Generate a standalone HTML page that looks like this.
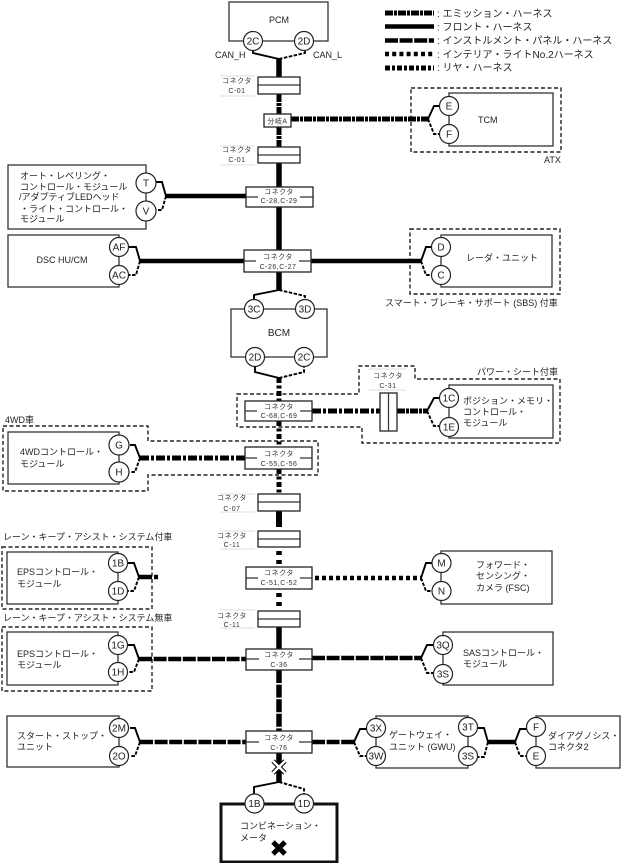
<!DOCTYPE html>
<html lang="ja">
<head>
<meta charset="utf-8">
<title>Diagram</title>
<style>
html,body{margin:0;padding:0;background:#fff;width:621px;height:863px;overflow:hidden}
svg{display:block}
text{font-family:"Liberation Sans","Noto Sans CJK JP",sans-serif;fill:#222}
.t{font-size:9px}
.l{font-size:10px}
.n{font-size:10px;text-anchor:middle}
.c{font-size:7px;text-anchor:middle;letter-spacing:.5px;fill:#333}
.box{fill:#fff;stroke:#333;stroke-width:1.3}
.cb{fill:#fff;stroke:#222;stroke-width:1.3}
.thin{fill:none;stroke:#333;stroke-width:1.2}
.lg{fill:none;stroke:#d4d4d4;stroke-width:.7}
.dash{fill:none;stroke:#222;stroke-width:1.4;stroke-dasharray:4 2.5}
.circ{fill:#fff;stroke:#222;stroke-width:1.2}
.w{fill:none;stroke:#000;stroke-width:4.5}
.v{fill:none;stroke:#000;stroke-width:5.5}
.em{stroke-dasharray:8 1 3 1;stroke-width:5}
.re{stroke-dasharray:9 2 3 2;stroke-width:5}
.in{stroke-dasharray:13 1.6}
.it{stroke-dasharray:4 3.2}
.fs{fill:none;stroke:#000;stroke-width:1.9;stroke-linejoin:miter}
.fd{fill:none;stroke:#000;stroke-width:1.9;stroke-dasharray:3.5 1.5}
</style>
</head>
<body>
<svg width="621" height="863" viewBox="0 0 621 863" xmlns="http://www.w3.org/2000/svg">
<rect width="621" height="863" fill="#fff"/>

<!-- Legend -->
<path class="w em" d="M385 13H434"/>
<path class="w" d="M385 26.500H434"/>
<path class="w in" d="M385 40.500H434"/>
<path class="w it" d="M385 54H434"/>
<path class="w re" style="stroke-dasharray:5 2 3 2" d="M385 68H434"/>
<text class="l" x="437" y="17">: エミッション・ハーネス</text>
<text class="l" x="437" y="30.500">: フロント・ハーネス</text>
<text class="l" x="437" y="44">: インストルメント・パネル・ハーネス</text>
<text class="l" x="437" y="58">: インテリア・ライトNo.2ハーネス</text>
<text class="l" x="437" y="71">: リヤ・ハーネス</text>

<!-- Dashed option frames -->
<rect class="dash" x="411" y="88" width="150" height="64"/>
<rect class="dash" x="410" y="229" width="150" height="65"/>
<path class="dash" d="M237 394H359V366H415V379H560V443H362V427H237Z"/>
<path class="dash" d="M3 426H148V441H318V475H148V491H3Z"/>
<rect class="dash" x="2" y="547" width="150" height="62"/>
<rect class="dash" x="2" y="627" width="150" height="64"/>

<!-- Main vertical wires -->
<path class="v" d="M279 59V77"/>
<path class="v em" d="M279 94V114"/>
<path class="v em" d="M279 127V147"/>
<path class="v" d="M279 163V187"/>
<path class="v" d="M279 207V250"/>
<path class="v" d="M279 272V290"/>
<path class="v re" style="stroke-dasharray:5 2.5 3 2.500" d="M279 378V401"/>
<path class="v re" style="stroke-dasharray:5 2.5 3 2.500" d="M279 421V447"/>
<path class="v re" style="stroke-dasharray:5 2.5 3 2.500" d="M279 469V494"/>
<path class="v" style="stroke-width:6" d="M279 511V527"/>
<path class="v it" style="stroke-dasharray:4 5" d="M279 551V567"/>
<path class="v it" style="stroke-dasharray:4 5" d="M279 593V611"/>
<path class="v" d="M279 627V649"/>
<path class="v in" d="M279 670V731"/>
<path class="v" d="M279 753V783"/>

<!-- Horizontal wires -->
<path class="w em" d="M291 119H428"/>
<path class="w" d="M166 196H246"/>
<path class="w" d="M140 261H244"/>
<path class="w" d="M311 261H421"/>
<path class="w re" d="M312 411H380"/>
<path class="w em" d="M397 411H427"/>
<path class="w re" d="M140 458H245"/>
<path class="w" d="M139 577H152"/>
<path class="w" d="M154 577H158"/>
<path class="w it" style="stroke-dasharray:4 3" d="M315 578H421"/>
<path class="w in" d="M139 659H246"/>
<path class="w in" d="M312 658H421"/>
<path class="w in" d="M140 742H246"/>
<path class="w in" d="M312 742H354"/>
<path class="w" d="M488 742H515"/>

<!-- Forks -->
<path class="fs" d="M253 50V53L279 59"/><path class="fd" d="M279 59L305 53V50"/>
<path class="fs" d="M428 119L434 106H440"/><path class="fd" d="M428 119L434 134H440"/>
<path class="fs" d="M156 182H162L166 196"/><path class="fd" d="M166 196L162 210H156"/>
<path class="fs" d="M129 247H136L140 261"/><path class="fd" d="M140 261L136 275H129"/>
<path class="fs" d="M421 261L426 247H432"/><path class="fd" d="M421 261L426 275H432"/>
<path class="fs" d="M279 290L254 295V300"/><path class="fd" d="M279 290L305 296V300"/>
<path class="fs" d="M255 367V372L279 378"/><path class="fd" d="M279 378L304 372V367"/>
<path class="fs" d="M427 411L434 398H440"/><path class="fd" d="M427 411L434 426H440"/>
<path class="fs" d="M130 445H135L140 458"/><path class="fd" d="M140 458L135 472H130"/>
<path class="fs" d="M128 563H134L139 577"/><path class="fd" d="M139 577L134 591H128"/>
<path class="fs" d="M421 578L426 563H433"/><path class="fd" d="M421 578L426 591H433"/>
<path class="fs" d="M128 645H134L139 659"/><path class="fd" d="M139 659L134 672H128"/>
<path class="fs" d="M421 658L427 645H434"/><path class="fd" d="M421 658L427 673H434"/>
<path class="fs" d="M130 728H135L140 742"/><path class="fd" d="M140 742L135 756H130"/>
<path class="fs" d="M354 742L360 729H367"/><path class="fd" d="M354 742L360 756H367"/>
<path class="fs" d="M478 728H484L488 742"/><path class="fd" d="M488 742L484 757H478"/>
<path class="fs" d="M515 742L520 729H527"/><path class="fd" d="M515 742L520 756H527"/>
<path class="fs" d="M279 782L254 787V795"/><path class="fd" d="M279 782L304 789V795"/>

<!-- Module boxes -->
<rect class="box" x="229" y="2" width="99" height="39"/>
<rect class="box" x="449" y="93" width="104" height="53"/>
<rect class="box" x="8" y="165" width="138" height="64"/>
<rect class="box" x="8" y="235" width="111" height="52"/>
<rect class="box" x="441" y="235" width="111" height="52"/>
<rect class="box" x="231" y="309" width="96" height="48"/>
<rect class="box" x="449" y="385" width="104" height="53"/>
<rect class="box" x="8" y="432" width="111" height="52"/>
<rect class="box" x="7" y="552" width="111" height="52"/>
<rect class="box" x="441" y="551" width="111" height="53"/>
<rect class="box" x="7" y="632" width="111" height="53"/>
<rect class="box" x="443" y="632" width="110" height="53"/>
<rect class="box" x="7" y="716" width="112" height="51"/>
<rect class="box" x="376" y="716" width="92" height="52"/>
<rect class="box" x="536" y="716" width="84" height="52"/>
<rect x="221" y="804" width="116" height="58" fill="#fff" stroke="#111" stroke-width="3"/>

<!-- Connector boxes -->
<rect class="cb" x="258" y="77" width="42" height="17"/><path class="thin" d="M258 85H300"/>
<rect class="cb" x="264" y="114" width="27" height="13"/>
<rect class="cb" x="258" y="147" width="42" height="16"/><path class="thin" d="M258 155H300"/>
<rect class="cb" x="246" y="187" width="67" height="20"/><path class="thin" d="M246 197H258M300 197H313"/>
<rect class="cb" x="244" y="250" width="67" height="22"/><path class="thin" d="M244 261H256M299 261H311"/>
<rect class="cb" x="245" y="401" width="67" height="20"/><path class="thin" d="M245 411H257M300 411H312"/>
<rect class="cb" x="380" y="393" width="17" height="38"/><path class="thin" d="M388.500 393V431"/>
<rect class="cb" x="245" y="447" width="67" height="22"/><path class="thin" d="M245 458H257M300 458H312"/>
<rect class="cb" x="258" y="494" width="42" height="17"/><path class="thin" d="M258 502H300"/>
<rect class="cb" x="258" y="531" width="42" height="16"/><path class="thin" d="M258 539H300"/>
<rect class="cb" x="246" y="567" width="66" height="22"/><path class="thin" d="M246 578H258M300 578H312"/>
<rect class="cb" x="258" y="611" width="42" height="16"/><path class="thin" d="M258 619H300"/>
<rect class="cb" x="246" y="649" width="66" height="21"/><path class="thin" d="M246 659H259M299 659H312"/>
<rect class="cb" x="246" y="731" width="66" height="22"/><path class="thin" d="M246 742H259M299 742H312"/>

<!-- Connector side label rules -->
<path class="lg" d="M220 76H255M220 96H255M220 146H255M220 165H255M220 494H255M220 512H255M220 531H255M220 549H255M220 610H255M220 628H255M369 369H406M369 390H406"/>

<!-- Connector labels -->
<text class="c" x="237" y="83">コネクタ</text><text class="c" x="237" y="93">C-01</text>
<text class="c" x="277.500" y="123.500">分岐A</text>
<text class="c" x="237" y="152">コネクタ</text><text class="c" x="237" y="162">C-01</text>
<text class="c" x="279" y="194">コネクタ</text><text class="c" x="279" y="203">C-28,C-29</text>
<text class="c" x="278" y="259">コネクタ</text><text class="c" x="278" y="269">C-26,C-27</text>
<text class="c" x="388" y="378">コネクタ</text><text class="c" x="388" y="388">C-31</text>
<text class="c" x="279" y="409">コネクタ</text><text class="c" x="279" y="418">C-68,C-69</text>
<text class="c" x="279" y="456">コネクタ</text><text class="c" x="279" y="466">C-55,C-56</text>
<text class="c" x="232" y="500">コネクタ</text><text class="c" x="232" y="511">C-07</text>
<text class="c" x="232" y="538">コネクタ</text><text class="c" x="232" y="547">C-11</text>
<text class="c" x="279" y="575">コネクタ</text><text class="c" x="279" y="585">C-51,C-52</text>
<text class="c" x="232" y="618">コネクタ</text><text class="c" x="232" y="627">C-11</text>
<text class="c" x="279" y="657">コネクタ</text><text class="c" x="279" y="667">C-36</text>
<text class="c" x="279" y="740">コネクタ</text><text class="c" x="279" y="750">C-76</text>

<!-- Circles -->
<g>
<circle class="circ" cx="253" cy="41" r="9.500"/><text class="n" x="253" y="44.500">2C</text>
<circle class="circ" cx="304" cy="41" r="9.500"/><text class="n" x="304" y="44.500">2D</text>
<circle class="circ" cx="449" cy="106" r="9.500"/><text class="n" x="449" y="109.500">E</text>
<circle class="circ" cx="449" cy="134" r="9.500"/><text class="n" x="449" y="137.500">F</text>
<circle class="circ" cx="146" cy="183" r="10"/><text class="n" x="146" y="186.500">T</text>
<circle class="circ" cx="146" cy="211" r="10"/><text class="n" x="146" y="214.500">V</text>
<circle class="circ" cx="119" cy="247" r="9.500"/><text class="n" x="119" y="250.500">AF</text>
<circle class="circ" cx="119" cy="275" r="9.500"/><text class="n" x="119" y="278.500">AC</text>
<circle class="circ" cx="441" cy="247" r="9.500"/><text class="n" x="441" y="250.500">D</text>
<circle class="circ" cx="441" cy="275" r="9.500"/><text class="n" x="441" y="278.500">C</text>
<circle class="circ" cx="254" cy="309" r="9.500"/><text class="n" x="254" y="312.500">3C</text>
<circle class="circ" cx="305" cy="309" r="9.500"/><text class="n" x="305" y="312.500">3D</text>
<circle class="circ" cx="255" cy="357" r="9.500"/><text class="n" x="255" y="360.500">2D</text>
<circle class="circ" cx="304" cy="357" r="9.500"/><text class="n" x="304" y="360.500">2C</text>
<circle class="circ" cx="449" cy="398" r="9.500"/><text class="n" x="449" y="401.500">1C</text>
<circle class="circ" cx="449" cy="427" r="9.500"/><text class="n" x="449" y="430.500">1E</text>
<circle class="circ" cx="119" cy="445" r="10"/><text class="n" x="119" y="448.500">G</text>
<circle class="circ" cx="119" cy="472" r="10"/><text class="n" x="119" y="475.500">H</text>
<circle class="circ" cx="118" cy="563" r="9.500"/><text class="n" x="118" y="566.500">1B</text>
<circle class="circ" cx="118" cy="591" r="9.500"/><text class="n" x="118" y="594.500">1D</text>
<circle class="circ" cx="441.500" cy="563" r="9.500"/><text class="n" x="441.500" y="566.500">M</text>
<circle class="circ" cx="441.500" cy="591" r="9.500"/><text class="n" x="441.500" y="594.500">N</text>
<circle class="circ" cx="118" cy="645" r="9.500"/><text class="n" x="118" y="648.500">1G</text>
<circle class="circ" cx="118" cy="672" r="9.500"/><text class="n" x="118" y="675.500">1H</text>
<circle class="circ" cx="443" cy="645" r="9.500"/><text class="n" x="443" y="648.500">3Q</text>
<circle class="circ" cx="443" cy="674" r="9.500"/><text class="n" x="443" y="677.500">3S</text>
<circle class="circ" cx="119" cy="728" r="9.500"/><text class="n" x="119" y="731.500">2M</text>
<circle class="circ" cx="119" cy="756" r="9.500"/><text class="n" x="119" y="759.500">2O</text>
<circle class="circ" cx="376" cy="728" r="9.500"/><text class="n" x="376" y="731.500">3X</text>
<circle class="circ" cx="376" cy="756" r="9.500"/><text class="n" x="376" y="759.500">3W</text>
<circle class="circ" cx="468" cy="727" r="9.500"/><text class="n" x="468" y="730.500">3T</text>
<circle class="circ" cx="468" cy="756" r="9.500"/><text class="n" x="468" y="759.500">3S</text>
<circle class="circ" cx="536" cy="727" r="9.500"/><text class="n" x="536" y="730.500">F</text>
<circle class="circ" cx="536" cy="756" r="9.500"/><text class="n" x="536" y="759.500">E</text>
<circle class="circ" cx="254.500" cy="803.500" r="9.500"/><text class="n" x="254.500" y="807">1B</text>
<circle class="circ" cx="304" cy="803.500" r="9.500"/><text class="n" x="304" y="807">1D</text>
</g>

<!-- Module text -->
<text class="t" x="279" y="23" text-anchor="middle">PCM</text>
<text class="t" x="215" y="58">CAN_H</text>
<text class="t" x="313" y="58">CAN_L</text>
<text class="t" x="478" y="123">TCM</text>
<text class="t" x="544" y="163">ATX</text>
<text class="t" x="20" y="179">オート・レベリング・</text>
<text class="t" x="20" y="190">コントロール・モジュール</text>
<text class="t" x="19" y="200">/アダプティブLEDヘッド</text>
<text class="t" x="20" y="212">・ライト・コントロール・</text>
<text class="t" x="20" y="222">モジュール</text>
<text class="t" x="62" y="263" text-anchor="middle">DSC HU/CM</text>
<text class="t" x="466" y="261">レーダ・ユニット</text>
<text class="t" x="385" y="306">スマート・ブレーキ・サポート (SBS) 付車</text>
<text x="279" y="336" text-anchor="middle" style="font-size:10px">BCM</text>
<text class="t" x="477" y="375">パワー・シート付車</text>
<text class="t" x="463" y="404">ポジション・メモリ・</text>
<text class="t" x="463" y="415">コントロール・</text>
<text class="t" x="463" y="426">モジュール</text>
<text class="t" x="5" y="423">4WD車</text>
<text class="t" x="20" y="455">4WDコントロール・</text>
<text class="t" x="20" y="467">モジュール</text>
<text class="t" x="3" y="540">レーン・キープ・アシスト・システム付車</text>
<text class="t" x="17" y="575">EPSコントロール・</text>
<text class="t" x="17" y="587">モジュール</text>
<text class="t" x="476" y="568">フォワード・</text>
<text class="t" x="476" y="579">センシング・</text>
<text class="t" x="476" y="591">カメラ (FSC)</text>
<text class="t" x="3" y="621">レーン・キープ・アシスト・システム無車</text>
<text class="t" x="17" y="657">EPSコントロール・</text>
<text class="t" x="17" y="668">モジュール</text>
<text class="t" x="463" y="656">SASコントロール・</text>
<text class="t" x="463" y="667">モジュール</text>
<text class="t" x="17" y="739">スタート・ストップ・</text>
<text class="t" x="17" y="750">ユニット</text>
<text class="t" x="389" y="738">ゲートウェイ・</text>
<text class="t" x="389" y="750">ユニット (GWU)</text>
<text class="t" x="548" y="739">ダイアグノシス・</text>
<text class="t" x="548" y="750">コネクタ2</text>
<text class="t" x="240" y="829">コンビネーション・</text>
<text class="t" x="240" y="841">メータ</text>

<!-- X marks -->
<path d="M273 761L285 773M285 761L273 773" stroke="#000" stroke-width="4.500" fill="none"/>
<path d="M273 761L285 773M285 761L273 773" stroke="#fff" stroke-width="2.500" fill="none"/>
<path d="M273 842L285 854M285 842L273 854" stroke="#000" stroke-width="5" fill="none"/>
</svg>
</body>
</html>
